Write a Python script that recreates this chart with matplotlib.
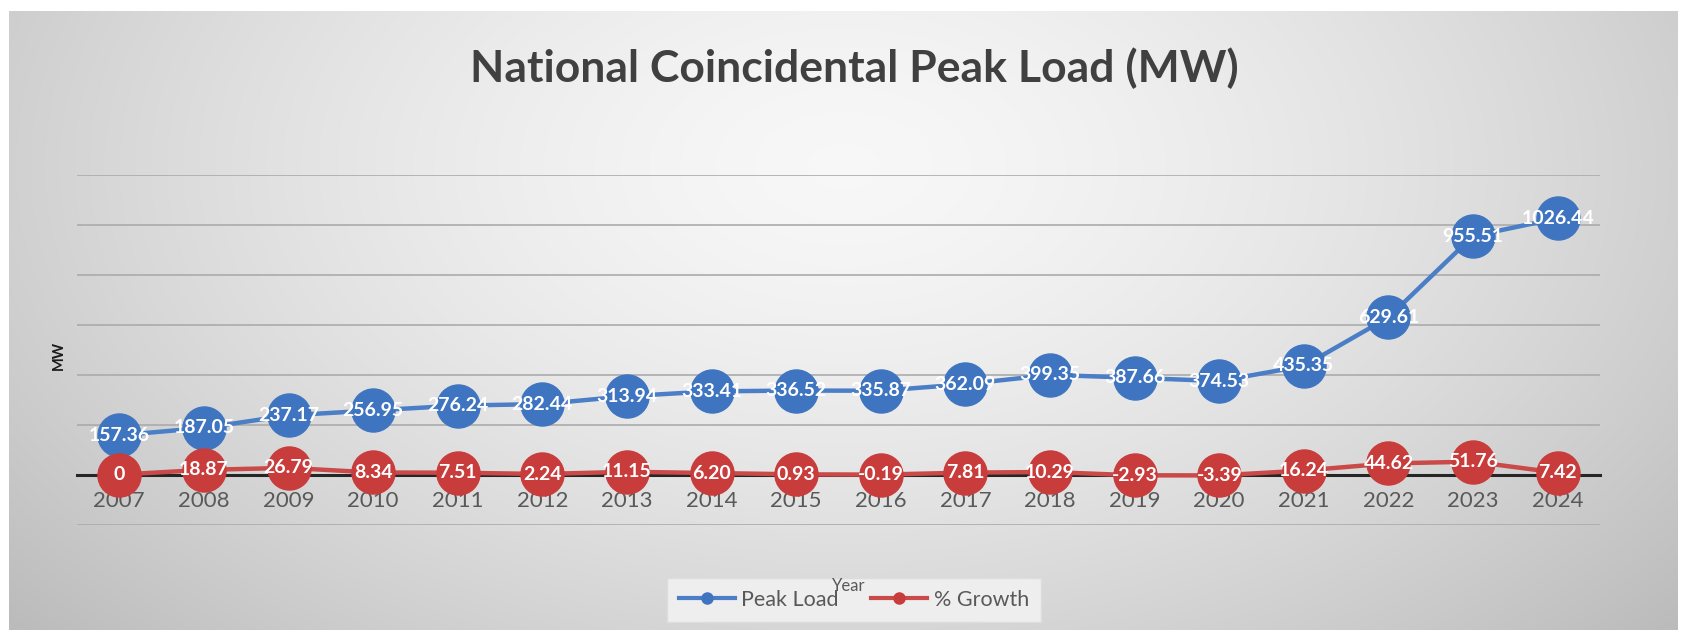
import numpy as np
import matplotlib
matplotlib.use('Agg')
import matplotlib.pyplot as plt
from matplotlib.lines import Line2D

# ---- data ----
years = ['2007', '2008', '2009', '2010', '2011', '2012', '2013', '2014', '2015',
         '2016', '2017', '2018', '2019', '2020', '2021', '2022', '2023', '2024']
peak_load = [157.36, 187.05, 237.17, 256.95, 276.24, 282.44, 313.94, 333.41, 336.52,
             335.87, 362.09, 399.35, 387.66, 374.53, 435.35, 629.61, 955.51, 1026.44]
growth = [0, 18.87, 26.79, 8.34, 7.51, 2.24, 11.15, 6.20, 0.93,
          -0.19, 7.81, 10.29, -2.93, -3.39, 16.24, 44.62, 51.76, 7.42]
series_names = ['Peak Load', '% Growth']
title = 'National Coincidental Peak Load (MW)'

plt.rcParams['font.family'] = ['Lato', 'DejaVu Sans']

W, H = 1685, 633
fig = plt.figure(figsize=(W / 100, H / 100), dpi=100)
fig.patch.set_facecolor('white')

# gradient background panel
bg = fig.add_axes([9 / W, 3 / H, (1677 - 9) / W, (630 - 11) / H])
bg.axis('off')
ny, nx = 300, 800
yy, xx = np.mgrid[0:1:ny * 1j, 0:1:nx * 1j]
d = np.sqrt(((xx - 0.5) / 0.6) ** 2 + ((yy - 0.25) / 1.0) ** 2)
val = 0.97 - 0.2 * np.clip(d, 0, 1.2) ** 1.5
img = np.dstack([val] * 3)
bg.imshow(img, aspect='auto', extent=[0, 1, 0, 1], origin='upper', interpolation='bilinear')
bg.set_xlim(0, 1)
bg.set_ylim(0, 1)

# main axes
ax = fig.add_axes([77 / W, (H - 524.5) / H, (1600 - 77) / W, (524.5 - 175) / H])
ax.patch.set_alpha(0)
x = np.arange(len(years))
ax.set_xlim(-0.5, len(years) - 0.5)
ax.set_ylim(-200, 1200)
ax.set_yticks(np.arange(-200, 1201, 200))
ax.yaxis.grid(True, color='#ababab', lw=1.2)
ax.set_axisbelow(True)
ax.tick_params(axis='y', length=0, labelleft=False)
for s in ['top', 'left', 'right']:
    ax.spines[s].set_visible(False)
ax.spines['bottom'].set_position(('data', 0))
ax.spines['bottom'].set_color('#262626')
ax.spines['bottom'].set_linewidth(2.2)
ax.set_xticks(x, years)
ax.tick_params(axis='x', length=0, pad=12, labelsize=16, labelcolor='#595959')

blue_line, blue_mk = '#4a7ec6', '#3f75c0'
red_line, red_mk = '#c94a48', '#c83c3b'

ax.plot(x, peak_load, color=blue_line, lw=3.2, marker='o', ms=31,
        mfc=blue_mk, mec=blue_mk, zorder=3)
ax.plot(x, growth, color=red_line, lw=3.2, marker='o', ms=31,
        mfc=red_mk, mec=red_mk, zorder=4)

for xi, v in zip(x, peak_load):
    ax.annotate(f'{v:.2f}', (xi, v), ha='center', va='center', color='white',
                fontsize=14, fontweight='bold', zorder=6)
for xi, v in zip(x, growth):
    lab = '0' if v == 0 else f'{v:.2f}'
    ax.annotate(lab, (xi, v), ha='center', va='center', color='white',
                fontsize=14, fontweight='bold', zorder=6)

fig.text(854 / W, 1 - 68 / H, title, ha='center', va='center', fontsize=32,
         fontweight='bold', color='#404040')
fig.text(59 / W, 1 - 355 / H, 'MW', rotation=90, ha='center', va='center',
         fontsize=10.5, fontweight='bold', color='#1a1a1a')

handles = [Line2D([], [], color=blue_line, lw=3, marker='o', ms=8, mfc=blue_mk, mec=blue_mk),
           Line2D([], [], color=red_line, lw=3, marker='o', ms=8, mfc=red_mk, mec=red_mk)]
fig.legend(handles, series_names, loc='center', bbox_to_anchor=(854 / W, 1 - 600 / H),
           ncol=2, frameon=True, facecolor='#eeeeee', edgecolor='#dddddd', framealpha=1,
           fontsize=15.5, labelcolor='#595959', handlelength=2.6, columnspacing=1.5,
           handletextpad=0.3, borderpad=0.55, fancybox=False)
fig.text(849 / W, 1 - 586 / H, 'Year', ha='center', va='center', fontsize=12,
         color='#595959', zorder=10)

fig.savefig('out.png', dpi=100)
